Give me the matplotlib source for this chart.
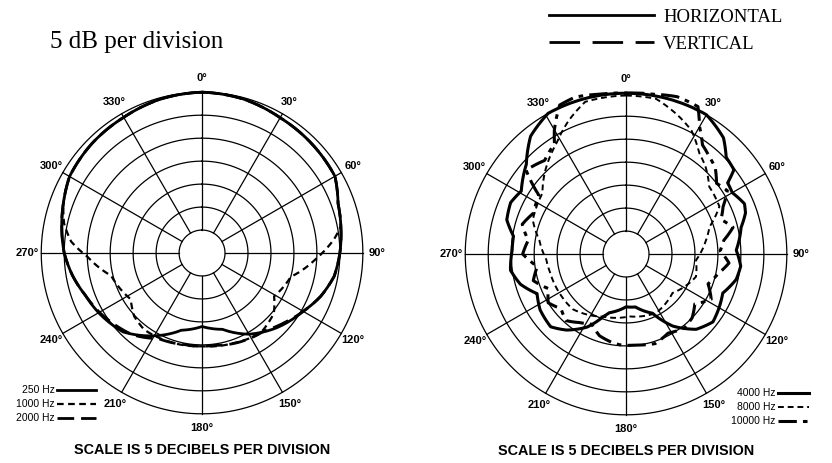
import numpy as np
import matplotlib.pyplot as plt
from matplotlib.lines import Line2D

# polar response data, angle in degrees (0 = front, clockwise) and level in dB
# left chart
ang_250 = [0, 15, 30, 45, 60, 70, 80, 90, 100, 110, 120, 135, 150, 165, 180,
           195, 210, 225, 240, 250, 260, 270, 280, 290, 300, 315, 330, 345, 360]
db_250 = [0, -0.3, -1.0, -1.3, -1.6, -3.5, -4.3, -5.0, -5.8, -7.5, -9.6, -12.0, -14.6, -17.8, -19.0,
          -17.6, -14.2, -10.7, -9.0, -8.0, -6.4, -5.0, -4.0, -2.9, -1.7, -1.2, -0.9, -0.3, 0]

ang_1000 = [0, 15, 30, 45, 60, 70, 79, 84, 93, 105, 121, 130, 144, 160, 180,
            201, 217, 227, 237, 256, 268, 275, 282, 290, 300, 315, 330, 345, 360]
db_1000 = [0, -0.3, -1.0, -1.3, -1.6, -3.5, -4.2, -6.1, -10.2, -15.0, -16.7, -14.6, -13.4, -14.2, -14.7,
           -14.4, -14.1, -14.8, -16.5, -14.6, -10.1, -6.4, -4.3, -2.9, -1.7, -1.2, -0.9, -0.3, 0]

ang_2000 = [0, 15, 30, 45, 60, 70, 80, 90, 100, 110, 120, 130, 141, 158, 172,
            191, 207, 220, 230, 240, 250, 260, 270, 280, 290, 300, 315, 330, 345, 360]
db_2000 = [0, -0.3, -1.0, -1.3, -1.6, -3.5, -4.3, -5.0, -5.8, -7.5, -9.6, -11.5, -13.3, -14.0, -14.7,
           -14.7, -14.1, -11.7, -10.5, -9.2, -8.0, -6.4, -5.0, -4.0, -2.9, -1.7, -1.2, -0.9, -0.3, 0]

# right chart
ang_4000 = [0, 15, 30, 40, 46, 52, 55, 60, 67, 71, 77, 83, 88, 96, 103, 112, 119, 128, 137, 147,
            156, 170, 180, 196, 200, 208, 218, 226, 237, 246, 254, 262, 272, 279, 286, 294, 301,
            312, 321, 331, 345, 360]
db_4000 = [0, 0, 0, -2.0, -4.7, -5.2, -8.0, -8.3, -7.0, -7.5, -9.3, -10.2, -11.0, -9.9, -10.4, -12.3,
           -11.7, -11.0, -12.6, -16.3, -20.9, -23.3, -23.5, -21.7, -20.5, -17.0, -14.0, -12.2, -12.7,
           -13.8, -11.1, -9.6, -10.2, -10.2, -8.0, -7.5, -8.4, -5.8, -2.0, 0, 0, 0]

ang_8000 = [0, 11, 21, 28, 36, 42, 51, 63, 72, 80, 95, 108, 130, 153, 177, 200, 224, 240, 256, 266,
            279, 290, 306, 316, 328, 337, 345, 360]
db_8000 = [-0.5, -0.6, -2.9, -4.6, -7.9, -9.2, -11.7, -12.2, -15.9, -17.3, -19.7, -19.0, -21.8, -20.6,
           -21.4, -20.5, -18.3, -18.2, -18.0, -17.6, -15.9, -13.4, -12.5, -9.7, -6.5, -3.3, -0.7, -0.5]

ang_10000 = [0, 10, 18, 26, 30, 35, 40, 46, 52, 58, 64, 70, 76, 82, 88, 95, 102, 110, 118, 126, 134,
             142, 152, 162, 172, 184, 190, 198, 206, 214, 222, 230, 238, 246, 254, 262, 270, 278,
             286, 294, 304, 310, 319, 327, 330, 336, 342, 350, 360]
db_10000 = [0, 0.3, 1.0, 0.7, -3.0, -6.0, -7.0, -8.0, -10.0, -9.0, -11.5, -13.0, -11.0, -13.5, -14.5,
            -12.5, -14.5, -16.0, -14.0, -16.5, -15.0, -14.5, -15.5, -14.5, -15.0, -15.2, -15.6, -16.3,
            -18.0, -17.0, -15.5, -16.5, -15.0, -16.5, -14.0, -15.5, -12.5, -13.5, -11.5, -13.0, -12.1,
            -6.6, -8.0, -6.4, -3.8, 0.5, 0.9, 0.3, 0]

rings = [-30, -25, -20, -15, -10, -5, 0]
spokes = list(range(0, 360, 30))

plt.rcParams['font.family'] = ['Liberation Sans', 'DejaVu Sans']

fig = plt.figure(figsize=(8.32, 4.63), dpi=100)
ax1 = fig.add_axes([0.0385, 0.0864, 0.4087, 0.7343], projection='polar')
ax2 = fig.add_axes([0.5481, 0.0842, 0.4087, 0.7343], projection='polar')

full = np.linspace(0, 2 * np.pi, 361)
for ax in (ax1, ax2):
    ax.set_theta_zero_location('N')
    ax.set_theta_direction(-1)
    ax.set_ylim(-35, 2)
    ax.axis('off')
    for r in rings:
        ax.plot(full, np.full_like(full, r), color='black', lw=0.9)
    for a in spokes:
        ax.plot([np.radians(a)] * 2, [rings[0], rings[-1]], color='black', lw=0.9)
        ax.text(np.radians(a), 3.0, f'{a}°', ha='center', va='center',
                fontsize=8, fontweight='bold')
    ax.text(0.5, -0.08, 'SCALE IS 5 DECIBELS PER DIVISION', transform=ax.transAxes,
            ha='center', va='center', fontsize=10.4, fontweight='bold')


def curve(ax, ang, db, **kw):
    line, = ax.plot(np.radians(ang), db, color='black', solid_joinstyle='round', **kw)
    # draw segments as arcs in polar space instead of straight chords
    line.get_path()._interpolation_steps = 16
    return line


l250 = curve(ax1, ang_250, db_250, lw=2.0)
l1000 = curve(ax1, ang_1000, db_1000, lw=1.6, ls=(0, (3, 2)))
l2000 = curve(ax1, ang_2000, db_2000, lw=2.0, ls=(0, (6, 2.5)))

l4000 = curve(ax2, ang_4000, db_4000, lw=2.2)
l8000 = curve(ax2, ang_8000, db_8000, lw=1.4, ls=(0, (3, 2)))
l10000 = curve(ax2, ang_10000, db_10000, lw=2.2, ls=(0, (6, 2, 1.5, 2)))

fig.legend([l250, l1000, l2000], ['250 Hz', '1000 Hz', '2000 Hz'], loc='center left',
           bbox_to_anchor=(0.019, 0.127), frameon=False, markerfirst=False, fontsize=7.5,
           handlelength=3.8, handletextpad=0.2, labelspacing=0.38, borderpad=0, borderaxespad=0)
fig.legend([l4000, l8000, l10000], ['4000 Hz', '8000 Hz', '10000 Hz'], loc='center left',
           bbox_to_anchor=(0.879, 0.120), frameon=False, markerfirst=False, fontsize=7.5,
           handlelength=3.0, handletextpad=0.2, labelspacing=0.38, borderpad=0, borderaxespad=0)

h_line = Line2D([], [], color='black', lw=2.0)
v_line = Line2D([], [], color='black', lw=2.0, ls=(0, (11, 4.5)))
fig.legend([h_line, v_line], ['HORIZONTAL', 'VERTICAL'], loc='upper left',
           bbox_to_anchor=(0.655, 0.99), frameon=False, prop={'family': 'Liberation Serif', 'size': 13.5},
           handlelength=5.6, handletextpad=0.5, labelspacing=0.55, borderpad=0.2, borderaxespad=0)

fig.text(0.06, 1 - 42 / 463, '5 dB per division', ha='left', va='center',
         family='Liberation Serif', fontsize=18)

fig.savefig('out.png', dpi=100)
